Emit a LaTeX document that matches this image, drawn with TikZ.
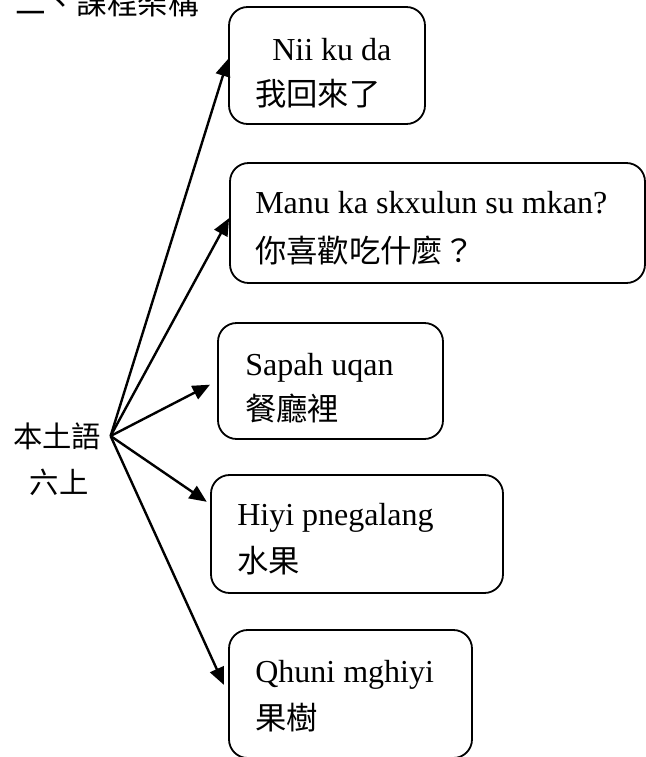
\documentclass[tikz,border=0pt]{standalone}
\usepackage{fontspec}
\setmainfont{Liberation Serif}
\newfontfamily\cjk{Noto Sans CJK TC}
\usepackage{xcolor}
\usetikzlibrary{calc,arrows.meta,fit}
\definecolor{ink}{HTML}{000000}
\tikzset{
  boxn/.style={draw=ink, line width=1.35pt, rounded corners=14pt, inner sep=0pt},
  arr/.style={draw=ink, line width=1.8pt, -{Triangle[length=13pt,width=11pt]}},
  lat/.style={anchor=base west, inner sep=0pt, font=\fontsize{24}{28}\selectfont},
  han/.style={anchor=base west, inner sep=0pt, font=\cjk\fontsize{23.5}{28}\selectfont},
  hubl/.style={font=\cjk\fontsize{22}{26}\selectfont, inner xsep=7pt, inner ysep=0pt},
}

\begin{document}
\begin{tikzpicture}[x=0.75pt,y=-0.75pt]
  \useasboundingbox (0,0) rectangle (646,757);
  \node[han, font=\cjk\fontsize{23}{26}\selectfont] (title) at (15,14) {二、課程架構};

  \node[hubl] (hub) at (57,436) {本土語};
  \node[hubl, anchor=base] (grade) at (59,493) {六上};

  \node[boxn, fit={(229,7) (425,124)}] (b1) {};
  \node[lat] (b1a) at (272,60) {Nii ku da};
  \node[han] (b1b) at (255,105) {我回來了};

  \node[boxn, fit={(230,163) (645,283)}] (b2) {};
  \node[lat] (b2a) at (255,213) {Manu ka skxulun su mkan?};
  \node[han] (b2b) at (255,262) {你喜歡吃什麼？};

  \node[boxn, fit={(218,323) (443,439)}] (b3) {};
  \node[lat] (b3a) at (245,375) {Sapah uqan};
  \node[han] (b3b) at (245,420) {餐廳裡};

  \node[boxn, fit={(211,475) (503,593)}] (b4) {};
  \node[lat] (b4a) at (237,525) {Hiyi pnegalang};
  \node[han] (b4b) at (237,572) {水果};

  \node[boxn, fit={(229,630) (472,758)}] (b5) {};
  \node[lat] (b5a) at (255,682) {Qhuni mghiyi};
  \node[han] (b5b) at (255,729) {果樹};

  \draw[arr] (hub.east) -- ($(b1.west)!0.11!(b1.north west)$);
  \draw[arr] (hub.east) -- ($(b2.west)!0.08!(b2.north west)$);
  \draw[arr, shorten >=6pt] (hub.east) -- (b3.west);
  \draw[arr, shorten >=3pt] (hub.east) -- ($(b4.west)!0.5!(b4.north west)$);
  \draw[arr, shorten >=7.5pt] (hub.east) -- (b5.west);
\end{tikzpicture}
\end{document}
